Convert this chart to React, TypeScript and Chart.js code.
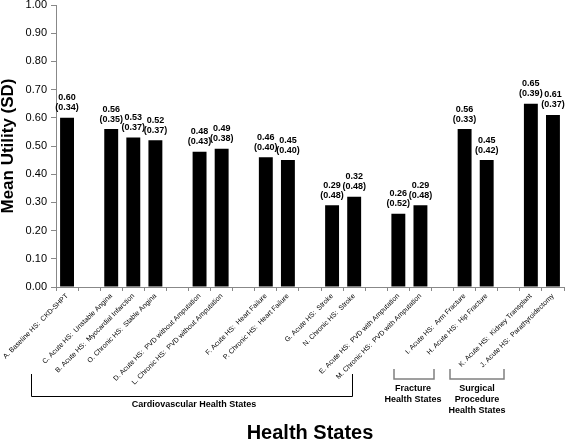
import React, { useEffect, useRef } from "react";
import { Chart, registerables } from "chart.js";

Chart.register(...registerables);

const FONT = '"Liberation Sans", Arial, Helvetica, sans-serif';

// Categories (empty strings are spacer slots between groups)
const categories: string[] = [
  "A. Baseline HS:  CKD-SHPT",
  "",
  "C. Acute HS:  Unstable Angina",
  "B. Acute HS:  Myocardial Infarction",
  "O. Chronic HS:  Stable Angina",
  "",
  "D. Acute HS:  PVD without Amputation",
  "L. Chronic HS:  PVD without Amputation",
  "",
  "F. Acute HS:  Heart Failure",
  "P. Chronic HS:  Heart Failure",
  "",
  "G. Acute HS:  Stroke",
  "N. Chronic HS:  Stroke",
  "",
  "E. Acute HS:  PVD with Amputation",
  "M. Chronic HS:  PVD with Amputation",
  "",
  "I. Acute HS:  Arm Fracture",
  "H. Acute HS:  Hip Fracture",
  "",
  "K. Acute HS:  Kidney Transplant",
  "J. Acute HS:  Parathyroidectomy",
];

const meanUtility: (number | null)[] = [
  0.6, null, 0.56, 0.53, 0.52, null, 0.48, 0.49, null, 0.46, 0.45, null,
  0.29, 0.32, null, 0.26, 0.29, null, 0.56, 0.45, null, 0.65, 0.61,
];

const sdUtility: (number | null)[] = [
  0.34, null, 0.35, 0.37, 0.37, null, 0.43, 0.38, null, 0.4, 0.4, null,
  0.48, 0.48, null, 0.52, 0.48, null, 0.33, 0.42, null, 0.39, 0.37,
];

const yTicks: number[] = [0, 0.1, 0.2, 0.3, 0.4, 0.5, 0.6, 0.7, 0.8, 0.9, 1.0];

const groupLabels = {
  cardio: ["Cardiovascular Health States"],
  fracture: ["Fracture", "Health States"],
  surgical: ["Surgical", "Procedure", "Health States"],
};

const valueLabelPlugin = {
  id: "valueLabels",
  afterDatasetsDraw(chart: any) {
    const ctx = chart.ctx;
    const meta = chart.getDatasetMeta(0);
    ctx.save();
    ctx.fillStyle = "#000";
    ctx.font = `bold 9px ${FONT}`;
    ctx.textAlign = "center";
    ctx.textBaseline = "middle";
    meta.data.forEach((bar: any, i: number) => {
      const v = meanUtility[i];
      const sd = sdUtility[i];
      if (v == null || sd == null) return;
      ctx.fillText(v.toFixed(2), bar.x, bar.y - 20);
      ctx.fillText(`(${sd.toFixed(2)})`, bar.x, bar.y - 10);
    });
    ctx.restore();
  },
};

const bracketPlugin = {
  id: "brackets",
  afterDraw(chart: any) {
    const ctx = chart.ctx;
    const xs = chart.scales.x;
    const px = (i: number) => xs.getPixelForValue(i);
    const base = chart.chartArea.bottom;
    ctx.save();
    ctx.lineWidth = 1;

    // Cardiovascular bracket
    const cL = Math.round(px(0) - 36) + 0.5;
    const cR = Math.round(px(16) - 68) + 0.5;
    const cTop = base + 87;
    const cBot = base + 109.5;
    ctx.strokeStyle = "#000";
    ctx.beginPath();
    ctx.moveTo(cL, cTop);
    ctx.lineTo(cL, cBot);
    ctx.lineTo(cR, cBot);
    ctx.lineTo(cR, cTop);
    ctx.stroke();

    // Fracture and surgical brackets (gray)
    ctx.strokeStyle = "#808080";
    ctx.lineWidth = 1.5;
    const bTop = base + 82;
    const bBot = base + 92;
    const drawB = (l: number, r: number) => {
      ctx.beginPath();
      ctx.moveTo(l, bTop);
      ctx.lineTo(l, bBot);
      ctx.lineTo(r, bBot);
      ctx.lineTo(r, bTop);
      ctx.stroke();
    };
    const fL = Math.round(px(18) - 71);
    const fR = Math.round(px(19) - 53);
    const sL = Math.round(px(21) - 81);
    const sR = Math.round(px(22) - 49);
    drawB(fL, fR);
    drawB(sL, sR);

    ctx.fillStyle = "#000";
    ctx.font = `bold 9px ${FONT}`;
    ctx.textAlign = "center";
    ctx.textBaseline = "middle";
    groupLabels.cardio.forEach((t, k) => ctx.fillText(t, (cL + cR) / 2 + 2, base + 118 + k * 11));
    groupLabels.fracture.forEach((t, k) => ctx.fillText(t, (fL + fR) / 2 - 1, base + 102 + k * 11));
    groupLabels.surgical.forEach((t, k) => ctx.fillText(t, (sL + sR) / 2, base + 102 + k * 11));
    ctx.restore();
  },
};

export default function App() {
  const ref = useRef<HTMLCanvasElement | null>(null);

  useEffect(() => {
    document.body.style.margin = "0";
    if (!ref.current) return;
    Chart.defaults.font.family = FONT;
    const chart = new Chart(ref.current, {
      type: "bar",
      data: {
        labels: categories,
        datasets: [
          {
            data: meanUtility,
            backgroundColor: "#000",
            borderWidth: 0,
            categoryPercentage: 1,
            barPercentage: 0.63,
          },
        ],
      },
      options: {
        animation: false,
        responsive: true,
        maintainAspectRatio: false,
        layout: { padding: { top: 5, right: 3, left: 0, bottom: 0 } },
        plugins: { legend: { display: false }, tooltip: { enabled: false } },
        scales: {
          x: {
            type: "category",
            offset: true,
            grid: {
              display: true,
              drawOnChartArea: false,
              drawTicks: true,
              tickLength: 4,
              offset: true,
              color: "#888",
              tickColor: "#888",
            },
            border: { display: true, color: "#888", width: 1 },
            ticks: {
              autoSkip: false,
              maxRotation: 45,
              minRotation: 45,
              padding: 1,
              color: "#000",
              font: { family: FONT, size: 7 },
            },
            title: {
              display: true,
              text: "Health States",
              color: "#000",
              font: { family: FONT, size: 20, weight: "bold", lineHeight: 1 },
              padding: { top: 0, bottom: 0 },
            },
            afterFit: (s: any) => {
              s.height = 156;
            },
          },
          y: {
            min: 0,
            max: 1,
            afterBuildTicks: (s: any) => {
              s.ticks = yTicks.map((v) => ({ value: v }));
            },
            grid: {
              display: true,
              drawOnChartArea: false,
              drawTicks: true,
              tickLength: 5,
              color: "#888",
              tickColor: "#888",
            },
            border: { display: true, color: "#888", width: 1 },
            ticks: {
              padding: 4,
              color: "#000",
              font: { family: FONT, size: 11 },
              callback: (v: any) => Number(v).toFixed(2),
            },
            title: {
              display: true,
              text: "Mean Utility (SD)",
              color: "#000",
              font: { family: FONT, size: 17, weight: "bold", lineHeight: 1 },
              padding: { top: 0, bottom: 0 },
            },
            afterFit: (s: any) => {
              s.width = 56;
              s.paddingTop = 0;
              s.paddingBottom = 0;
            },
          },
        },
      },
      plugins: [valueLabelPlugin, bracketPlugin],
    });
    return () => chart.destroy();
  }, []);

  return (
    <div style={{ position: "absolute", left: 0, top: 0, width: 567, height: 443 }}>
      <canvas ref={ref} />
    </div>
  );
}
